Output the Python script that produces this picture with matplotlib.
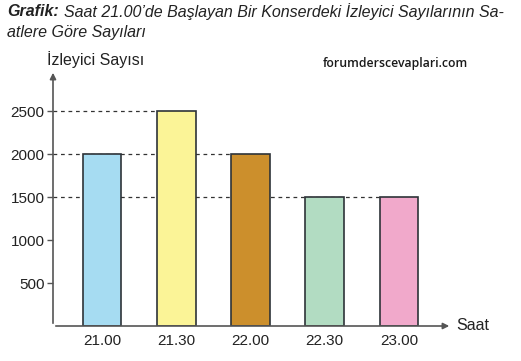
import matplotlib.pyplot as plt

plt.rcParams['font.family'] = ['Liberation Sans', 'DejaVu Sans']

saatler = ['21.00', '21.30', '22.00', '22.30', '23.00']
izleyici = [2000, 2500, 2000, 1500, 1500]
renkler = ['#a6dcf2', '#fbf497', '#cc8f2c', '#b2dcc2', '#f1a9cb']
yticks = [500, 1000, 1500, 2000, 2500]

fig = plt.figure(figsize=(5.21, 3.61), dpi=100)
ax = fig.add_axes([53 / 521, 35 / 361, (452 - 53) / 521, (326 - 70) / 361])

x = list(range(len(saatler)))
ax.set_xlim(-0.662, 4.716)
ax.set_ylim(0, 2977)

# kesikli yardımcı çizgiler (barların arkasında)
for v in sorted(set(izleyici)):
    son = max(i for i, h in enumerate(izleyici) if h == v)
    ax.plot([-0.662, son - 0.26], [v, v], ls=(0, (3, 3)), color='#333333', lw=0.9, zorder=1)

ax.bar(x, izleyici, width=0.52, color=renkler, edgecolor='#2e3338', linewidth=1.2, zorder=2)

for s in ['top', 'right', 'left', 'bottom']:
    ax.spines[s].set_visible(False)

ax.annotate('', xy=(0, 1.0), xytext=(0, 0), xycoords='axes fraction',
            arrowprops=dict(arrowstyle='-|>', color='#555555', lw=1.2, mutation_scale=9))
ax.annotate('', xy=(1.0, 0), xytext=(0, 0), xycoords='axes fraction',
            arrowprops=dict(arrowstyle='-|>', color='#555555', lw=1.2, mutation_scale=9))

ax.set_xticks(x)
ax.set_xticklabels(saatler, fontsize=11, color='#222222')
ax.set_yticks(yticks)
ax.set_yticklabels([str(t) for t in yticks], fontsize=11, color='#222222')
ax.tick_params(axis='x', length=0, pad=6)
ax.tick_params(axis='y', length=4, width=1, color='#555555', pad=2)

ax.text(1.01, 0, 'Saat', transform=ax.transAxes, fontsize=11.5, va='center', ha='left', color='#222222')
fig.text(47 / 521, 1 - 60 / 361, 'İzleyici Sayısı', fontsize=11.5, va='center', ha='left', color='#222222')

fig.text(7 / 521, 1 - 12 / 361, 'Grafik:', fontsize=11.5, fontweight='bold', fontstyle='italic',
         va='center', ha='left', color='#222222')
fig.text(64 / 521, 1 - 12 / 361, "Saat 21.00’de Başlayan Bir Konserdeki İzleyici Sayılarının Sa-",
         fontsize=11.5, fontstyle='italic', va='center', ha='left', color='#222222')
fig.text(7 / 521, 1 - 32 / 361, 'atlere Göre Sayıları', fontsize=11.5, fontstyle='italic',
         va='center', ha='left', color='#222222')

fig.text(323 / 521, 1 - 64 / 361, 'forumderscevaplari.com', fontsize=8.8, fontweight='semibold',
         family=['Open Sans', 'DejaVu Sans'], va='center', ha='left', color='#1a1a1a')

fig.savefig('out.png', dpi=100)
